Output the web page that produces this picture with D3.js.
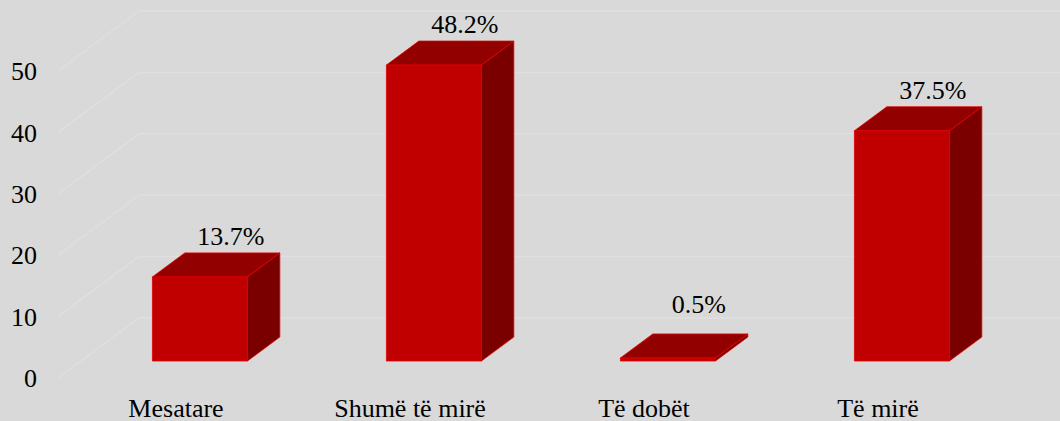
<!DOCTYPE html>
<html>
<head>
<meta charset="utf-8">
<script src="https://cdn.jsdelivr.net/npm/d3@7"></script>
<style>
  body { margin: 0; background: #d9d9d9; }
  svg { display: block; }
</style>
</head>
<body>
<svg width="1060" height="421"></svg>
<script>
var categories = ['Mesatare', 'Shumë të mirë', 'Të dobët', 'Të mirë'];
var values = [13.7, 48.2, 0.5, 37.5];
var valueLabels = ['13.7%', '48.2%', '0.5%', '37.5%'];
var yTicks = [0, 10, 20, 30, 40, 50];

var serif = '"Liberation Serif", "Times New Roman", "DejaVu Serif", serif';

var svg = d3.select('svg'),
    width = +svg.attr('width'),
    height = +svg.attr('height');

svg.append('rect').attr('width', width).attr('height', height).attr('fill', '#d9d9d9');

// depth of the 3d box: 0 = front edge, 1 = back wall
var depthX = 81, depthY = 60;
var barFront = 0.283, barBack = 0.683;

var x = d3.scaleBand()
    .domain(categories)
    .range([60, 996])
    .paddingInner(0.594)
    .paddingOuter(0.297);

var y = d3.scaleLinear()
    .domain([0, 50])
    .range([378, 71]);

function px(xv, d) { return xv + d * depthX; }
function py(v, d) { return y(v) - d * depthY; }

// gridlines: oblique on the side wall then flat on the back wall
var grid = svg.append('g').attr('class', 'grid');
grid.selectAll('path')
  .data(yTicks)
  .enter().append('path')
    .attr('fill', 'none')
    .attr('stroke', '#dfdfdf')
    .attr('stroke-width', 1.5)
    .attr('d', function(d) {
      return 'M' + px(58, 0) + ',' + py(d, 0) +
             'L' + px(58, 1) + ',' + py(d, 1) +
             'L' + width + ',' + py(d, 1);
    });

// y axis labels
svg.append('g').selectAll('text')
  .data(yTicks)
  .enter().append('text')
    .attr('x', 37)
    .attr('y', function(d) { return y(d); })
    .attr('dy', '0.35em')
    .attr('text-anchor', 'end')
    .attr('font-family', serif)
    .attr('font-size', 26)
    .text(function(d) { return d; });

// bars
var bars = svg.append('g').selectAll('g')
  .data(values)
  .enter().append('g');

function poly(pts) {
  return 'M' + pts.map(function(p) { return p[0] + ',' + p[1]; }).join('L') + 'Z';
}

bars.each(function(v, i) {
  var g = d3.select(this);
  var x0 = x(categories[i]), x1 = x0 + x.bandwidth();
  var f = barFront, b = barBack;
  // side
  g.append('path')
    .attr('fill', '#7a0000')
    .attr('stroke', '#e00000').attr('stroke-width', 0.8)
    .attr('d', poly([[px(x1, f), py(0, f)], [px(x1, b), py(0, b)], [px(x1, b), py(v, b)], [px(x1, f), py(v, f)]]));
  // top
  g.append('path')
    .attr('fill', '#930000')
    .attr('stroke', '#e00000').attr('stroke-width', 0.8)
    .attr('d', poly([[px(x0, f), py(v, f)], [px(x1, f), py(v, f)], [px(x1, b), py(v, b)], [px(x0, b), py(v, b)]]));
  // front
  g.append('path')
    .attr('fill', '#c00000')
    .attr('stroke', '#e00000').attr('stroke-width', 0.8)
    .attr('d', poly([[px(x0, f), py(0, f)], [px(x1, f), py(0, f)], [px(x1, f), py(v, f)], [px(x0, f), py(v, f)]]));
});

// value labels
svg.append('g').selectAll('text')
  .data(values)
  .enter().append('text')
    .attr('x', function(d, i) { return px(x(categories[i]) + x.bandwidth() / 2, barFront) + 31; })
    .attr('y', function(d) { return Math.min(py(d, barBack) - 8, py(0, barFront) - 48); })
    .attr('text-anchor', 'middle')
    .attr('font-family', serif)
    .attr('font-size', 26)
    .text(function(d, i) { return valueLabels[i]; });

// category labels
svg.append('g').selectAll('text')
  .data(categories)
  .enter().append('text')
    .attr('x', function(d) { return x(d) + x.bandwidth() / 2 - 1; })
    .attr('y', 417)
    .attr('text-anchor', 'middle')
    .attr('font-family', serif)
    .attr('font-size', 26)
    .text(function(d) { return d; });
</script>
</body>
</html>
